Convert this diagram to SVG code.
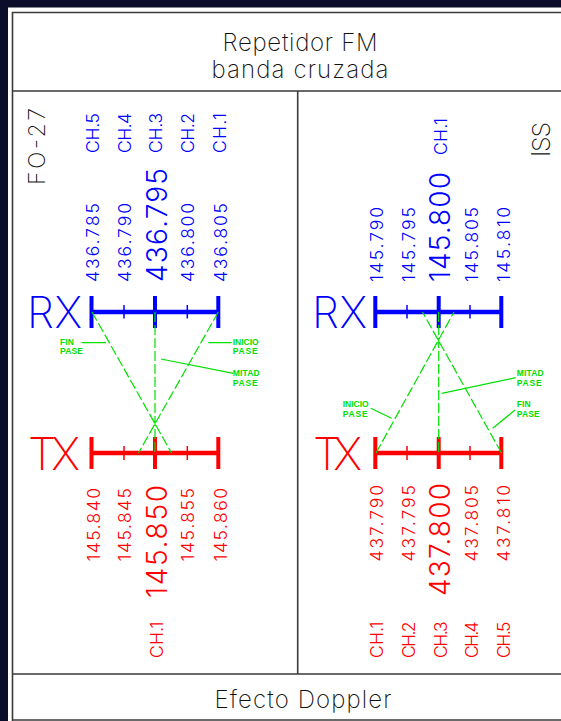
<svg xmlns="http://www.w3.org/2000/svg" width="561" height="721" viewBox="0 0 561 721">
<style>
.cad{font-family:Inter,"Liberation Sans",sans-serif;font-weight:200}
.sm{font-family:Inter,"Liberation Sans",sans-serif;font-weight:300;font-size:17.5px}
.bg{font-family:Inter,"Liberation Sans",sans-serif;font-weight:300;font-size:28px}
.blue{fill:#0000ff}
.red{fill:#ff0000}
.blk{fill:#111}
.gl{font-family:"Liberation Sans",sans-serif;font-weight:bold;font-size:8.5px;fill:#00dd00}
.frame{stroke:#3a3a3a;stroke-width:1.6;fill:none}
.bb{stroke:#0000ff}
.rb{stroke:#ff0000}
.dash{stroke:#00e000;stroke-width:1.2;stroke-dasharray:10 3;fill:none}
.lead{stroke:#00e000;stroke-width:1.2;fill:none}
</style>
<rect width="561" height="721" fill="#0c0c2b"/>
<rect x="8" y="7.5" width="560" height="720" fill="#ffffff"/>
<g id="frame" class="frame">
<path d="M12.5 721V12.5H561"/>
<path d="M12.5 91H561M12.5 674H561M12.5 720H561M297.7 91V674"/>
</g>
<g id="header">
<text class="cad blk" x="300" y="51" font-size="24" text-anchor="middle" textLength="155">Repetidor FM</text>
<text class="cad blk" x="300" y="78" font-size="24" text-anchor="middle" textLength="177">banda cruzada</text>
</g>
<g id="footer">
<text class="cad blk" x="303" y="708" font-size="24" text-anchor="middle" textLength="177">Efecto Doppler</text>
</g>
<g id="fo27">
<text class="cad blk" font-size="23" transform="translate(45,185) rotate(-90)" textLength="77">FO-27</text>
<g id="fo27-rx-ch">
<text class="sm blue" transform="translate(98.5,153) rotate(-90)" textLength="40">CH.5</text>
<text class="sm blue" transform="translate(130.5,153) rotate(-90)" textLength="40">CH.4</text>
<text class="sm blue" transform="translate(162,153) rotate(-90)" textLength="40">CH.3</text>
<text class="sm blue" transform="translate(193.5,153) rotate(-90)" textLength="40">CH.2</text>
<text class="sm blue" transform="translate(226,153) rotate(-90)" textLength="40">CH.1</text>
</g>
<g id="fo27-rx-freq">
<text class="sm blue" transform="translate(98.5,282) rotate(-90)" textLength="79">436.785</text>
<text class="sm blue" transform="translate(130.5,282) rotate(-90)" textLength="79">436.790</text>
<text class="bg blue" transform="translate(166.5,282) rotate(-90)" textLength="114">436.795</text>
<text class="sm blue" transform="translate(193.5,282) rotate(-90)" textLength="79">436.800</text>
<text class="sm blue" transform="translate(226.5,282) rotate(-90)" textLength="79">436.805</text>
</g>
<g id="fo27-rx">
<text class="cad blue" x="27" y="328" font-size="43" textLength="55">RX</text>
<path class="bb" stroke-width="4.5" d="M91.5 312H218.3"/>
<path class="bb" stroke-width="4" d="M91.5 296V328M155 296V328M218.3 296V328"/>
<path class="bb" stroke-width="1.5" d="M124 305V318.5M187.3 305V318.5"/>
</g>
<g id="fo27-tx">
<text class="cad red" x="28" y="470" font-size="45" textLength="52">TX</text>
<path class="rb" stroke-width="4.5" d="M91.5 453H218.3"/>
<path class="rb" stroke-width="4" d="M91.5 437V469M155 437V469M218.3 437V469"/>
<path class="rb" stroke-width="1.5" d="M124 446V460M187.3 446V460"/>
</g>
<g id="fo27-tx-freq">
<text class="sm red" text-anchor="end" transform="translate(99.5,488) rotate(-90)" textLength="73.5">145.840</text>
<text class="sm red" text-anchor="end" transform="translate(130.5,488) rotate(-90)" textLength="73.5">145.845</text>
<text class="bg red" text-anchor="end" transform="translate(166.5,485) rotate(-90)" textLength="113">145.850</text>
<text class="sm red" text-anchor="end" transform="translate(193.5,488) rotate(-90)" textLength="73.5">145.855</text>
<text class="sm red" text-anchor="end" transform="translate(226.5,488) rotate(-90)" textLength="73.5">145.860</text>
<text class="sm red" transform="translate(163,658) rotate(-90)" textLength="36.5">CH.1</text>
</g>
<g id="fo27-labels">
<text class="gl" x="60" y="344.5" textLength="14">FIN</text>
<text class="gl" x="60" y="354" textLength="23">PASE</text>
<text class="gl" x="232.7" y="344.5" textLength="26">INICIO</text>
<text class="gl" x="232.7" y="354" textLength="25">PASE</text>
<text class="gl" x="232.7" y="376" textLength="27">MITAD</text>
<text class="gl" x="232.7" y="385.5" textLength="25">PASE</text>
</g>
</g>
<g id="iss">
<text class="cad blk" font-size="25" transform="translate(550,157) rotate(-90)" textLength="35">ISS</text>
<text class="sm blue" transform="translate(446.5,155) rotate(-90)" textLength="37">CH.1</text>
<g id="iss-rx-freq">
<text class="sm blue" transform="translate(383,282) rotate(-90)" textLength="75">145.790</text>
<text class="sm blue" transform="translate(415,282) rotate(-90)" textLength="75">145.795</text>
<text class="bg blue" transform="translate(449.5,282) rotate(-90)" textLength="110">145.800</text>
<text class="sm blue" transform="translate(478,282) rotate(-90)" textLength="75">145.805</text>
<text class="sm blue" transform="translate(510,282) rotate(-90)" textLength="75">145.810</text>
</g>
<g id="iss-rx">
<text class="cad blue" x="312" y="328" font-size="43" textLength="55">RX</text>
<path class="bb" stroke-width="4.5" d="M375.3 312H501.3"/>
<path class="bb" stroke-width="4" d="M375.3 296V328M438.7 296V328M501.3 296V328"/>
<path class="bb" stroke-width="1.5" d="M407 305V318.5M470 305V318.5"/>
</g>
<g id="iss-tx">
<text class="cad red" x="313" y="470" font-size="45" textLength="49">TX</text>
<path class="rb" stroke-width="4.5" d="M375.3 453H501.3"/>
<path class="rb" stroke-width="4" d="M375.3 437V469M438.7 437V469M501.3 437V469"/>
<path class="rb" stroke-width="1.5" d="M407 446V460M470 446V460"/>
</g>
<g id="iss-tx-freq">
<text class="sm red" text-anchor="end" transform="translate(383,485) rotate(-90)" textLength="76.5">437.790</text>
<text class="sm red" text-anchor="end" transform="translate(415,485) rotate(-90)" textLength="76.5">437.795</text>
<text class="bg red" text-anchor="end" transform="translate(450,483) rotate(-90)" textLength="113">437.800</text>
<text class="sm red" text-anchor="end" transform="translate(478,485) rotate(-90)" textLength="76.5">437.805</text>
<text class="sm red" text-anchor="end" transform="translate(510,485) rotate(-90)" textLength="76.5">437.810</text>
<text class="sm red" transform="translate(383,658) rotate(-90)" textLength="36.5">CH.1</text>
<text class="sm red" transform="translate(415,658) rotate(-90)" textLength="36.5">CH.2</text>
<text class="sm red" transform="translate(446.5,658) rotate(-90)" textLength="36.5">CH.3</text>
<text class="sm red" transform="translate(478,658) rotate(-90)" textLength="36.5">CH.4</text>
<text class="sm red" transform="translate(510,658) rotate(-90)" textLength="36.5">CH.5</text>
</g>
<g id="iss-labels">
<text class="gl" x="516.7" y="376" textLength="27">MITAD</text>
<text class="gl" x="516.7" y="385.5" textLength="25">PASE</text>
<text class="gl" x="342.7" y="406.5" textLength="26">INICIO</text>
<text class="gl" x="342.7" y="416.5" textLength="25">PASE</text>
<text class="gl" x="516.7" y="406.5" textLength="14">FIN</text>
<text class="gl" x="516.7" y="416.5" textLength="23">PASE</text>
</g>
</g>
<g id="connectors">
<path class="dash" d="M92 312L171.5 453M218.3 312L138.5 453M155 312V453"/>
<path class="dash" d="M376 453L454 312M501.5 453L422.5 312M438.7 312V453"/>
<path class="lead" d="M81.7 342.7H106M208.3 342.7H231.7M161 359L233.3 373.3"/>
<path class="lead" d="M441.7 393.3L515.7 377.7M370.7 408.3L391.7 418.3M515 410L492.7 428.3"/>
</g>
</svg>
